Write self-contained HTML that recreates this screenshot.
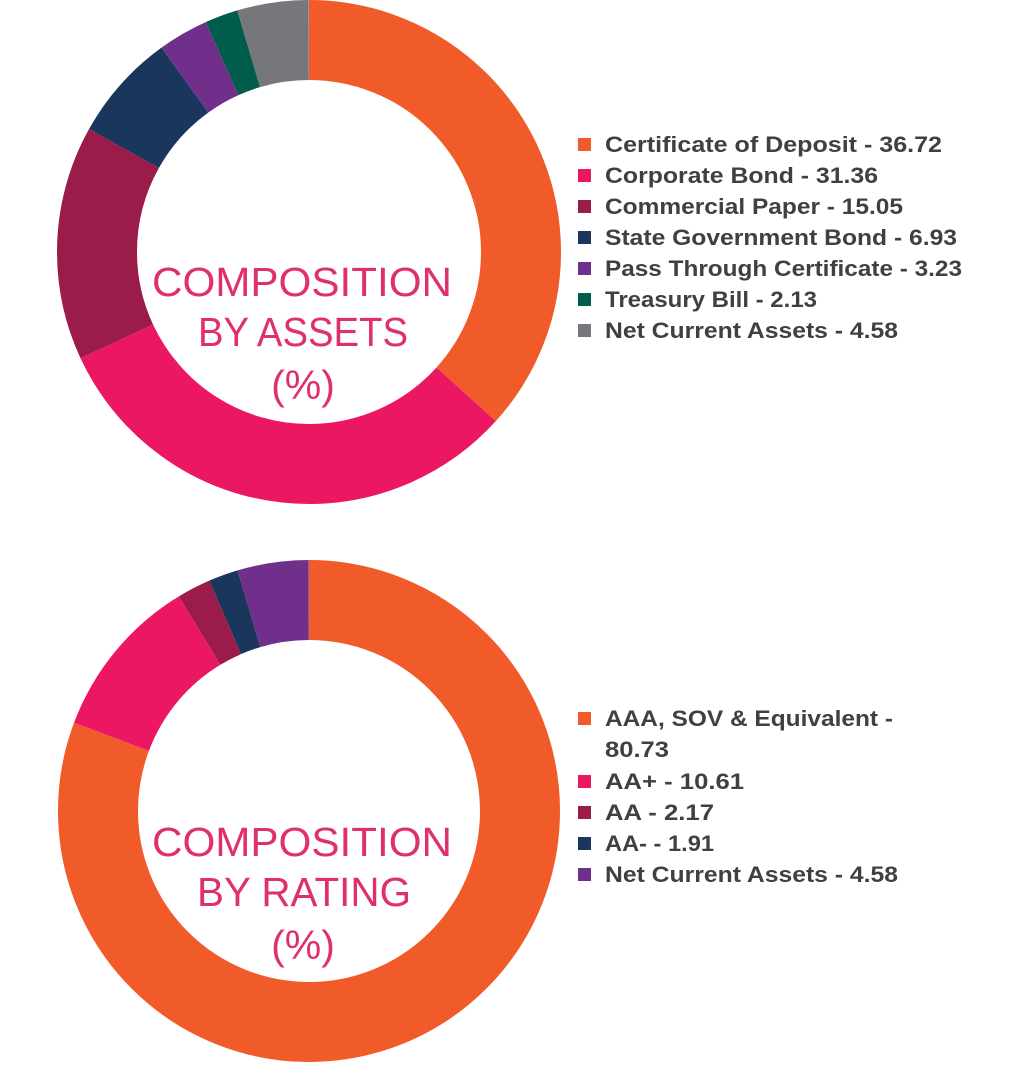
<!DOCTYPE html>
<html><head><meta charset="utf-8"><style>html,body{margin:0;padding:0;background:#fff}svg{display:block}</style></head>
<body>
<svg width="1017" height="1082" viewBox="0 0 1017 1082" xmlns="http://www.w3.org/2000/svg">
<g fill="none" stroke-width="80" transform="rotate(-90 309 252)">
<circle cx="309" cy="252" r="212" pathLength="100" stroke="#F15A29" stroke-dasharray="36.72 100" stroke-dashoffset="0"/>
<circle cx="309" cy="252" r="212" pathLength="100" stroke="#EC1763" stroke-dasharray="31.36 100" stroke-dashoffset="-36.72"/>
<circle cx="309" cy="252" r="212" pathLength="100" stroke="#9B1B4B" stroke-dasharray="15.05 100" stroke-dashoffset="-68.08"/>
<circle cx="309" cy="252" r="212" pathLength="100" stroke="#1B365D" stroke-dasharray="6.93 100" stroke-dashoffset="-83.13"/>
<circle cx="309" cy="252" r="212" pathLength="100" stroke="#702F8A" stroke-dasharray="3.23 100" stroke-dashoffset="-90.06"/>
<circle cx="309" cy="252" r="212" pathLength="100" stroke="#005C4B" stroke-dasharray="2.13 100" stroke-dashoffset="-93.29"/>
<circle cx="309" cy="252" r="212" pathLength="100" stroke="#76777A" stroke-dasharray="4.58 100" stroke-dashoffset="-95.42"/>
</g>
<g fill="none" stroke-width="80" transform="rotate(-90 309 811)">
<circle cx="309" cy="811" r="211" pathLength="100" stroke="#F15A29" stroke-dasharray="80.73 100" stroke-dashoffset="0"/>
<circle cx="309" cy="811" r="211" pathLength="100" stroke="#EC1763" stroke-dasharray="10.61 100" stroke-dashoffset="-80.73"/>
<circle cx="309" cy="811" r="211" pathLength="100" stroke="#9B1B4B" stroke-dasharray="2.17 100" stroke-dashoffset="-91.34"/>
<circle cx="309" cy="811" r="211" pathLength="100" stroke="#1B365D" stroke-dasharray="1.91 100" stroke-dashoffset="-93.51"/>
<circle cx="309" cy="811" r="211" pathLength="100" stroke="#702F8A" stroke-dasharray="4.58 100" stroke-dashoffset="-95.42"/>
</g>
<g font-family="Liberation Sans, sans-serif" font-size="41" fill="#E0306A" text-anchor="middle">
<text x="302" y="296" textLength="300" lengthAdjust="spacingAndGlyphs">COMPOSITION</text>
<text x="303" y="346" textLength="210" lengthAdjust="spacingAndGlyphs">BY ASSETS</text>
<text x="303" y="399">(%)</text>
<text x="302" y="856" textLength="300" lengthAdjust="spacingAndGlyphs">COMPOSITION</text>
<text x="304" y="906" textLength="214" lengthAdjust="spacingAndGlyphs">BY RATING</text>
<text x="303" y="959">(%)</text>
</g>
<g font-family="Liberation Sans, sans-serif" font-size="22" font-weight="bold" fill="#404040">
<rect x="578" y="138" width="13" height="13" fill="#F15A29"/><text x="605" y="152" textLength="337" lengthAdjust="spacingAndGlyphs">Certificate of Deposit - 36.72</text>
<rect x="578" y="169" width="13" height="13" fill="#EC1763"/><text x="605" y="183" textLength="273" lengthAdjust="spacingAndGlyphs">Corporate Bond - 31.36</text>
<rect x="578" y="200" width="13" height="13" fill="#9B1B4B"/><text x="605" y="214" textLength="298" lengthAdjust="spacingAndGlyphs">Commercial Paper - 15.05</text>
<rect x="578" y="231" width="13" height="13" fill="#1B365D"/><text x="605" y="245" textLength="352" lengthAdjust="spacingAndGlyphs">State Government Bond - 6.93</text>
<rect x="578" y="262" width="13" height="13" fill="#702F8A"/><text x="605" y="276" textLength="357" lengthAdjust="spacingAndGlyphs">Pass Through Certificate - 3.23</text>
<rect x="578" y="293" width="13" height="13" fill="#005C4B"/><text x="605" y="307" textLength="212" lengthAdjust="spacingAndGlyphs">Treasury Bill - 2.13</text>
<rect x="578" y="324" width="13" height="13" fill="#76777A"/><text x="605" y="338" textLength="293" lengthAdjust="spacingAndGlyphs">Net Current Assets - 4.58</text>

<rect x="578" y="712" width="13" height="13" fill="#F15A29"/><text x="605" y="726" textLength="288" lengthAdjust="spacingAndGlyphs">AAA, SOV &amp; Equivalent -</text>
<text x="605" y="757" textLength="64" lengthAdjust="spacingAndGlyphs">80.73</text>
<rect x="578" y="775" width="13" height="13" fill="#EC1763"/><text x="605" y="789" textLength="139" lengthAdjust="spacingAndGlyphs">AA+ - 10.61</text>
<rect x="578" y="806" width="13" height="13" fill="#9B1B4B"/><text x="605" y="820" textLength="109" lengthAdjust="spacingAndGlyphs">AA - 2.17</text>
<rect x="578" y="837" width="13" height="13" fill="#1B365D"/><text x="605" y="851" textLength="109" lengthAdjust="spacingAndGlyphs">AA- - 1.91</text>
<rect x="578" y="868" width="13" height="13" fill="#702F8A"/><text x="605" y="882" textLength="293" lengthAdjust="spacingAndGlyphs">Net Current Assets - 4.58</text>
</g>
</svg>
</body></html>
